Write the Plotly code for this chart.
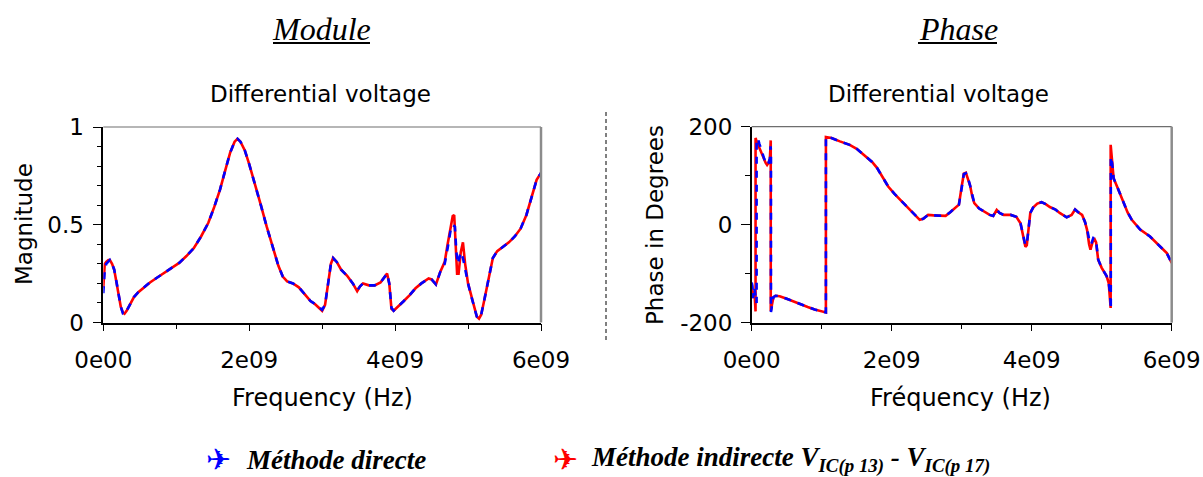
import plotly.graph_objects as go

W, H = 1203, 477

# ---------------- Data: Magnitude (Module) ----------------
mag_freq_ghz_direct = [0.0, 0.01, 0.02, 0.04, 0.07, 0.09, 0.12, 0.15, 0.18, 0.21, 0.24, 0.27, 0.29, 0.32,
                       0.36, 0.42, 0.48, 0.56, 0.64, 0.74, 0.84, 0.94, 1.04, 1.14, 1.24, 1.34, 1.44, 1.52,
                       1.6, 1.68, 1.74, 1.8, 1.84, 1.88, 1.94, 2.0, 2.08, 2.16, 2.24, 2.32, 2.4, 2.46, 2.52,
                       2.6, 2.68, 2.76, 2.84, 2.9, 2.96, 3.0, 3.04, 3.08, 3.12, 3.15, 3.2, 3.26, 3.34, 3.42,
                       3.48, 3.52, 3.56, 3.64, 3.72, 3.8, 3.86, 3.89, 3.92, 3.95, 3.98, 4.04, 4.12, 4.2, 4.28,
                       4.36, 4.46, 4.5, 4.56, 4.62, 4.68, 4.72, 4.76, 4.79, 4.82, 4.84, 4.86, 4.88, 4.9, 4.93,
                       4.96, 5.0, 5.04, 5.08, 5.12, 5.15, 5.18, 5.22, 5.26, 5.3, 5.34, 5.4, 5.48, 5.56, 5.64,
                       5.72, 5.8, 5.88, 5.94, 6.0]
mag_direct = [0.15, 0.22, 0.27, 0.30, 0.315, 0.32, 0.30, 0.27, 0.21, 0.14, 0.08, 0.045, 0.04, 0.06,
              0.09, 0.13, 0.155, 0.18, 0.205, 0.23, 0.255, 0.28, 0.305, 0.34, 0.38, 0.44, 0.51, 0.59,
              0.68, 0.79, 0.87, 0.925, 0.94, 0.925, 0.88, 0.81, 0.71, 0.60, 0.49, 0.39, 0.29, 0.235, 0.21,
              0.20, 0.18, 0.145, 0.11, 0.095, 0.075, 0.065, 0.09, 0.20, 0.30, 0.33, 0.31, 0.27, 0.24, 0.20,
              0.165, 0.185, 0.20, 0.19, 0.19, 0.205, 0.235, 0.25, 0.20, 0.075, 0.06, 0.08, 0.11, 0.14, 0.175,
              0.20, 0.225, 0.22, 0.195, 0.26, 0.30, 0.38, 0.47, 0.50, 0.49, 0.36, 0.30, 0.33, 0.36, 0.33,
              0.27, 0.20, 0.14, 0.08, 0.03, 0.02, 0.04, 0.11, 0.19, 0.26, 0.33, 0.365, 0.39, 0.41, 0.44,
              0.48, 0.55, 0.66, 0.73, 0.765]

mag_freq_ghz_indirect = [0.0, 0.01, 0.02, 0.04, 0.07, 0.09, 0.12, 0.15, 0.18, 0.21, 0.24, 0.27, 0.29, 0.32,
                         0.36, 0.42, 0.48, 0.56, 0.64, 0.74, 0.84, 0.94, 1.04, 1.14, 1.24, 1.34, 1.44, 1.52,
                         1.6, 1.68, 1.74, 1.8, 1.84, 1.88, 1.94, 2.0, 2.08, 2.16, 2.24, 2.32, 2.4, 2.46, 2.52,
                         2.6, 2.68, 2.76, 2.84, 2.9, 2.96, 3.0, 3.04, 3.08, 3.12, 3.15, 3.2, 3.26, 3.34, 3.42,
                         3.48, 3.52, 3.56, 3.64, 3.72, 3.8, 3.86, 3.89, 3.92, 3.95, 3.98, 4.04, 4.12, 4.2, 4.28,
                         4.36, 4.46, 4.5, 4.56, 4.62, 4.68, 4.72, 4.76, 4.79, 4.81, 4.83, 4.85, 4.87, 4.9, 4.93,
                         4.96, 5.0, 5.04, 5.08, 5.12, 5.15, 5.18, 5.22, 5.26, 5.3, 5.34, 5.4, 5.48, 5.56, 5.64,
                         5.72, 5.8, 5.88, 5.94, 6.0]
mag_indirect = [0.18, 0.26, 0.30, 0.31, 0.32, 0.32, 0.30, 0.27, 0.21, 0.14, 0.08, 0.05, 0.045, 0.06,
                0.09, 0.13, 0.155, 0.18, 0.205, 0.23, 0.255, 0.28, 0.305, 0.34, 0.38, 0.44, 0.51, 0.59,
                0.68, 0.79, 0.87, 0.925, 0.94, 0.925, 0.88, 0.81, 0.71, 0.60, 0.49, 0.39, 0.29, 0.235, 0.21,
                0.20, 0.18, 0.145, 0.11, 0.095, 0.075, 0.06, 0.09, 0.20, 0.30, 0.33, 0.31, 0.27, 0.24, 0.20,
                0.16, 0.185, 0.20, 0.19, 0.19, 0.205, 0.235, 0.25, 0.20, 0.07, 0.06, 0.08, 0.11, 0.14, 0.175,
                0.20, 0.225, 0.22, 0.195, 0.26, 0.31, 0.40, 0.48, 0.545, 0.55, 0.40, 0.25, 0.25, 0.36, 0.41,
                0.30, 0.20, 0.14, 0.08, 0.03, 0.02, 0.04, 0.11, 0.19, 0.26, 0.33, 0.365, 0.39, 0.41, 0.44,
                0.48, 0.55, 0.66, 0.73, 0.765]

# ---------------- Data: Phase ----------------
ph_freq_ghz_direct = [0.0, 0.01, 0.02, 0.03, 0.045, 0.06, 0.07, 0.0701, 0.09, 0.11, 0.13, 0.15, 0.18, 0.2,
                      0.22, 0.24, 0.26, 0.27, 0.275, 0.2751, 0.29, 0.31, 0.34, 0.4, 0.5, 0.6, 0.7, 0.8, 0.9,
                      1.0, 1.06, 1.0601, 1.14, 1.26, 1.4, 1.5, 1.62, 1.72, 1.79, 1.87, 1.95, 2.04, 2.12, 2.2,
                      2.28, 2.35, 2.4, 2.45, 2.52, 2.6, 2.7, 2.77, 2.84, 2.9, 2.96, 3.0, 3.03, 3.06, 3.09,
                      3.12, 3.15, 3.18, 3.25, 3.32, 3.4, 3.45, 3.5, 3.54, 3.6, 3.7, 3.78, 3.84, 3.88, 3.91,
                      3.93, 3.95, 3.98, 4.02, 4.08, 4.14, 4.2, 4.26, 4.34, 4.4, 4.5, 4.57, 4.62, 4.66, 4.72,
                      4.76, 4.79, 4.82, 4.85, 4.88, 4.9, 4.92, 4.95, 5.0, 5.07, 5.1, 5.12, 5.13, 5.1301,
                      5.15, 5.17, 5.24, 5.31, 5.37, 5.43, 5.55, 5.69, 5.83, 5.93, 6.0]
ph_direct = [-118, -125, -150, -128, -135, -155, -160, 176, 175, 165, 155, 146, 134, 126,
             122, 126, 135, 160, 150, -178, -160, -148, -145, -146, -151, -157, -163, -168, -173,
             -176, -179, 179, 177, 170, 163, 155, 141, 128, 116, 97, 78, 63, 51, 40,
             27, 17, 10, 12, 20, 19, 18, 18, 26, 34, 41, 75, 103, 105, 95,
             80, 58, 44, 33, 27, 20, 18, 32, 24, 20, 20, 16, 3, -20, -42,
             -40, -10, 24, 35, 43, 46, 42, 36, 31, 24, 15, 20, 31, 26, 20,
             6, -7, -30, -40, -27, -28, -34, -71, -88, -105, -119, -140, -172, 139,
             125, 95, 71, 44, 25, 10, -10, -24, -44, -58, -78]

ph_freq_ghz_indirect = [0.0, 0.01, 0.02, 0.03, 0.045, 0.055, 0.0551, 0.07, 0.09, 0.11, 0.13, 0.15, 0.18, 0.2,
                        0.22, 0.24, 0.26, 0.27, 0.272, 0.2721, 0.29, 0.31, 0.34, 0.4, 0.5, 0.6, 0.7, 0.8, 0.9,
                        1.0, 1.06, 1.0601, 1.14, 1.26, 1.4, 1.5, 1.62, 1.72, 1.79, 1.87, 1.95, 2.04, 2.12, 2.2,
                        2.28, 2.35, 2.4, 2.45, 2.52, 2.6, 2.7, 2.77, 2.84, 2.9, 2.96, 3.0, 3.03, 3.06, 3.09,
                        3.12, 3.15, 3.18, 3.25, 3.32, 3.4, 3.45, 3.5, 3.54, 3.6, 3.7, 3.78, 3.84, 3.88, 3.91,
                        3.93, 3.95, 3.98, 4.02, 4.08, 4.14, 4.2, 4.26, 4.34, 4.4, 4.5, 4.57, 4.62, 4.66, 4.72,
                        4.76, 4.79, 4.82, 4.84, 4.87, 4.9, 4.92, 4.95, 5.0, 5.07, 5.1, 5.12, 5.128, 5.1281,
                        5.15, 5.17, 5.24, 5.31, 5.37, 5.43, 5.55, 5.69, 5.83, 5.93, 6.0]
ph_indirect = [-125, -140, -150, -135, -150, -177, 177, 170, 162, 155, 150, 143, 132, 126,
               122, 126, 135, 172, 172, -176, -158, -148, -145, -146, -151, -157, -163, -168, -173,
               -176, -179, 179, 177, 170, 163, 155, 141, 128, 116, 97, 78, 63, 51, 40,
               27, 17, 10, 12, 20, 19, 18, 18, 26, 34, 41, 78, 104, 106, 95,
               80, 58, 44, 33, 27, 20, 18, 30, 24, 20, 20, 16, 3, -22, -45,
               -42, -10, 24, 35, 43, 46, 42, 36, 31, 24, 15, 20, 31, 26, 20,
               6, -10, -40, -51, -35, -30, -36, -72, -88, -105, -119, -150, -170, 163,
               120, 95, 71, 44, 25, 10, -10, -24, -44, -58, -78]

x_tick_vals = [0, 2e9, 4e9, 6e9]
x_tick_text = ["0e00", "2e09", "4e09", "6e09"]
mag_tick_vals = [0, 0.5, 1]
mag_tick_text = ["0", "0.5", "1"]
ph_tick_vals = [-200, 0, 200]
ph_tick_text = ["-200", "0", "200"]

BLUE = "#0000ff"
RED = "#ff0000"


def hz(lst):
    return [v * 1e9 for v in lst]


def px(x):
    return x / W


def py(y):
    return 1 - y / H


fig = go.Figure()

# Magnitude plot: red solid below, blue dashed on top
fig.add_trace(go.Scatter(x=hz(mag_freq_ghz_indirect), y=mag_indirect, mode="lines",
                         line=dict(color=RED, width=2.6), xaxis="x", yaxis="y", showlegend=False))
fig.add_trace(go.Scatter(x=hz(mag_freq_ghz_direct), y=mag_direct, mode="lines",
                         line=dict(color=BLUE, width=2.6, dash="7px,7px"), xaxis="x", yaxis="y",
                         showlegend=False))
# Phase plot
fig.add_trace(go.Scatter(x=hz(ph_freq_ghz_indirect), y=ph_indirect, mode="lines",
                         line=dict(color=RED, width=2.6), xaxis="x2", yaxis="y2", showlegend=False))
fig.add_trace(go.Scatter(x=hz(ph_freq_ghz_direct), y=ph_direct, mode="lines",
                         line=dict(color=BLUE, width=2.6, dash="7px,7px"), xaxis="x2", yaxis="y2",
                         showlegend=False))

tickfont = dict(family="DejaVu Sans", size=23, color="black")

xcommon = dict(range=[0, 6e9], tickmode="array", tickvals=x_tick_vals, ticktext=x_tick_text,
               ticks="outside", ticklen=7, tickwidth=1, tickcolor="black", showline=True,
               linecolor="black", linewidth=1.5, showgrid=False, zeroline=False, tickfont=tickfont,
               ticklabelstandoff=9, automargin=False,
               minor=dict(dtick=1e9, tick0=0, ticks="outside", ticklen=5, tickcolor="black", showgrid=False))

fig.update_layout(
    template="none",
    width=W, height=H,
    margin=dict(l=0, r=0, t=0, b=0, autoexpand=False),
    paper_bgcolor="white", plot_bgcolor="white",
    showlegend=False,
    xaxis=dict(domain=[px(103.3), px(541)], anchor="y", **xcommon),
    yaxis=dict(domain=[py(322.5), py(127)], anchor="x", range=[0, 1], tickmode="array",
               tickvals=mag_tick_vals, ticktext=mag_tick_text, ticks="outside", ticklen=9,
               tickcolor="black", showline=True, linecolor="black", linewidth=1.5, showgrid=False,
               zeroline=False, tickfont=tickfont, ticklabelstandoff=4, automargin=False,
               minor=dict(dtick=0.1, tick0=0, ticks="outside", ticklen=5, tickcolor="black", showgrid=False)),
    xaxis2=dict(domain=[px(751.7), px(1171.7)], anchor="y2", **xcommon),
    yaxis2=dict(domain=[py(322.7), py(126.7)], anchor="x2", range=[-200, 200], tickmode="array",
                tickvals=ph_tick_vals, ticktext=ph_tick_text, ticks="outside", ticklen=9,
                tickcolor="black", showline=True, linecolor="black", linewidth=1.5, showgrid=False,
                zeroline=False, tickfont=tickfont, ticklabelstandoff=4, automargin=False,
                minor=dict(dtick=100, tick0=0, ticks="outside", ticklen=5, tickcolor="black", showgrid=False)),
)

shapes = []
# grey top/right borders of each plot box
for xr, yr in [("x domain", "y domain"), ("x2 domain", "y2 domain")]:
    shapes.append(dict(type="line", xref=xr, yref=yr, x0=0, x1=1, y0=1, y1=1,
                       line=dict(color="#6e6e6e", width=1.2)))
    shapes.append(dict(type="line", xref=xr, yref=yr, x0=1, x1=1, y0=0, y1=1,
                       line=dict(color="#8c8c8c", width=2.5)))
# dashed vertical separator
shapes.append(dict(type="line", xref="paper", yref="paper", x0=px(606), x1=px(606), y0=py(112), y1=py(342),
                   line=dict(color="black", width=1, dash="4px,3px")))
# underlines of the headers
shapes.append(dict(type="line", xref="paper", yref="paper", x0=px(273), x1=px(370), y0=py(43), y1=py(43),
                   line=dict(color="black", width=2)))
shapes.append(dict(type="line", xref="paper", yref="paper", x0=px(918), x1=px(997), y0=py(43), y1=py(43),
                   line=dict(color="black", width=2)))
fig.update_layout(shapes=shapes)

ann = []


def text(x, y, s, size, family="DejaVu Sans", color="black", xanchor="center", angle=0):
    ann.append(dict(x=px(x), y=py(y), xref="paper", yref="paper", text=s, showarrow=False,
                    xanchor=xanchor, yanchor="middle", textangle=angle,
                    font=dict(family=family, size=size, color=color)))


# headers
text(321, 29, "<i>Module</i>", 32, family="Liberation Serif")
text(958, 29, "<i>Phase</i>", 32, family="Liberation Serif")
# subplot titles
text(320, 94, "Differential voltage", 23)
text(938, 94, "Differential voltage", 23)
# axis titles
text(322, 398, "Frequency (Hz)", 24)
text(961, 398, "Fréquency (Hz)", 24)
text(24, 224, "Magnitude", 23, angle=-90)
text(655, 225, "Phase in Degrees", 23, angle=-90)
# legend
text(218, 459, "✈", 30, color=BLUE)
text(565, 459, "✈", 30, color=RED)
text(244, 460, "<b><i>Méthode directe</i></b>", 27, family="Liberation Serif", xanchor="left")
text(589, 459, "<b><i>Méthode indirecte V<sub>IC(p 13)</sub> - V<sub>IC(p 17)</sub></i></b>", 27,
     family="Liberation Serif", xanchor="left")
fig.update_layout(annotations=ann)

fig.write_html("out.html", config={"displayModeBar": False},
               post_script="document.body.style.margin='0px';document.body.style.overflow='hidden';")
